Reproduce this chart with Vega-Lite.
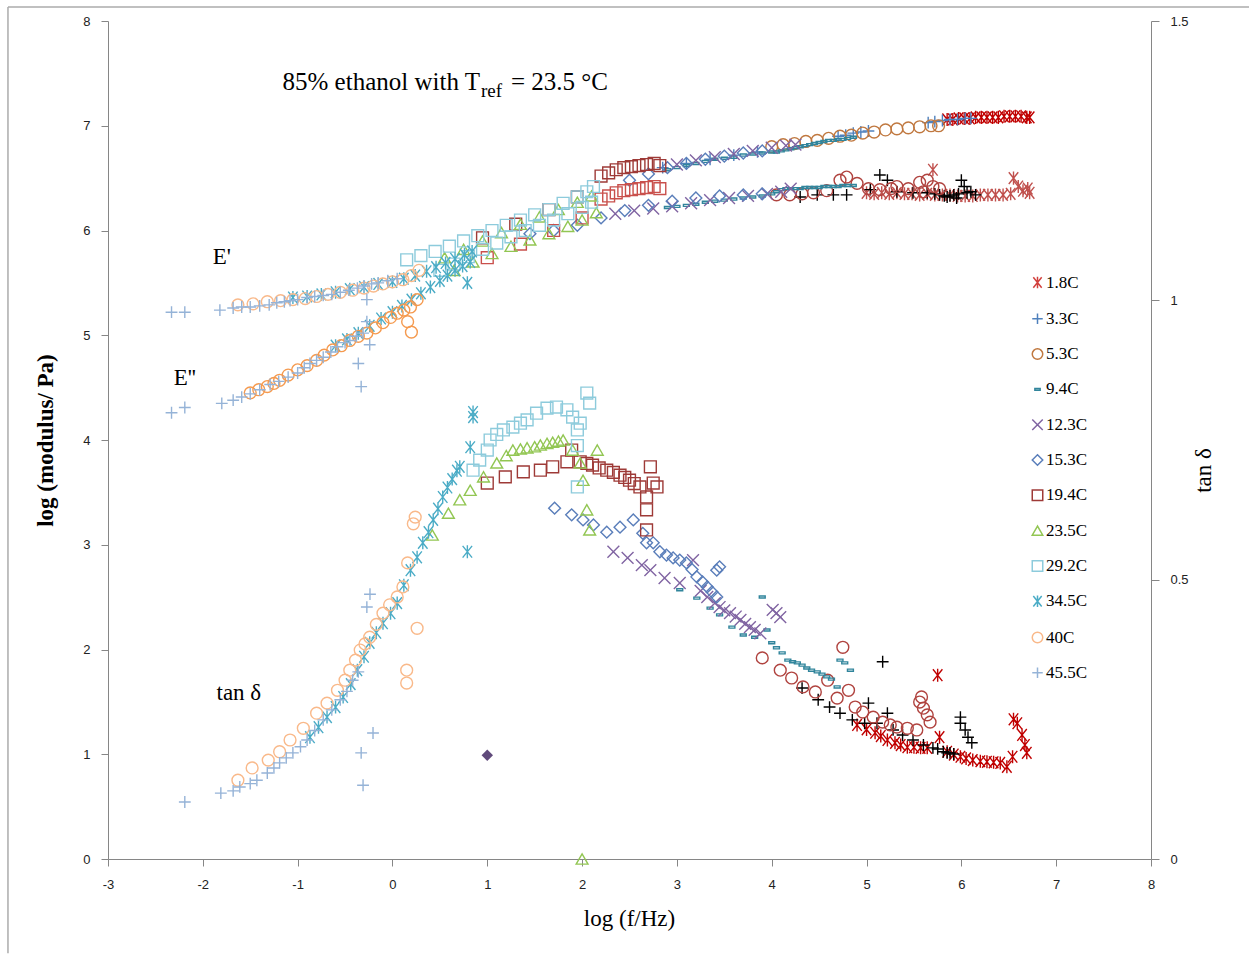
{
"$schema":"https://vega.github.io/schema/vega-lite/v6.json",
"width":1043,"height":838,
"autosize":{"type":"none"},
"padding":{"left":108,"top":21,"right":98,"bottom":97},
"background":"white",
"config":{
 "view":{"stroke":null},
 "axis":{"grid":false,"labelFlush":false,"domainColor":"#868686","tickColor":"#868686","domainWidth":1,"tickWidth":1,"tickSize":7,"labelFont":"Liberation Sans","labelFontSize":13,"labelColor":"#222222","labelPadding":12,"titleFont":"Liberation Serif","titleFontSize":23,"titleColor":"#000000","titleFontWeight":"normal"}
},
"datasets":{
 "frame":[{"x":-4.055,"x2":-4.055,"y":8.134,"y2":-0.9},{"x":-4.055,"x2":9.05,"y":8.134,"y2":8.134}],
 "modulus":[
  {"series":"1.8C top","x":5.85,"y":7.06},{"series":"1.8C top","x":5.91,"y":7.06},{"series":"1.8C top","x":5.97,"y":7.07},{"series":"1.8C top","x":6.03,"y":7.07},{"series":"1.8C top","x":6.09,"y":7.07},{"series":"1.8C top","x":6.15,"y":7.08},{"series":"1.8C top","x":6.21,"y":7.08},{"series":"1.8C top","x":6.27,"y":7.08},{"series":"1.8C top","x":6.33,"y":7.08},{"series":"1.8C top","x":6.39,"y":7.08},{"series":"1.8C top","x":6.45,"y":7.09},{"series":"1.8C top","x":6.51,"y":7.09},{"series":"1.8C top","x":6.57,"y":7.09},{"series":"1.8C top","x":6.63,"y":7.09},{"series":"1.8C top","x":6.69,"y":7.08},{"series":"1.8C top","x":6.72,"y":7.08},
  {"series":"1.8C mid","x":5.0,"y":6.36},{"series":"1.8C mid","x":5.08,"y":6.35},{"series":"1.8C mid","x":5.16,"y":6.36},{"series":"1.8C mid","x":5.24,"y":6.35},{"series":"1.8C mid","x":5.32,"y":6.36},{"series":"1.8C mid","x":5.4,"y":6.35},{"series":"1.8C mid","x":5.48,"y":6.35},{"series":"1.8C mid","x":5.56,"y":6.34},{"series":"1.8C mid","x":5.64,"y":6.35},{"series":"1.8C mid","x":5.7,"y":6.58},{"series":"1.8C mid","x":5.72,"y":6.34},{"series":"1.8C mid","x":5.8,"y":6.34},{"series":"1.8C mid","x":5.88,"y":6.34},{"series":"1.8C mid","x":5.96,"y":6.33},{"series":"1.8C mid","x":6.04,"y":6.33},{"series":"1.8C mid","x":6.12,"y":6.33},{"series":"1.8C mid","x":6.2,"y":6.34},{"series":"1.8C mid","x":6.28,"y":6.34},{"series":"1.8C mid","x":6.36,"y":6.34},{"series":"1.8C mid","x":6.44,"y":6.34},{"series":"1.8C mid","x":6.52,"y":6.35},{"series":"1.8C mid","x":6.55,"y":6.5},{"series":"1.8C mid","x":6.6,"y":6.42},{"series":"1.8C mid","x":6.65,"y":6.38},{"series":"1.8C mid","x":6.7,"y":6.4},{"series":"1.8C mid","x":6.72,"y":6.36},
  {"series":"3.3C","x":2.85,"y":6.6},{"series":"3.3C","x":3.1,"y":6.64},{"series":"3.3C","x":3.35,"y":6.68},{"series":"3.3C","x":3.6,"y":6.72},{"series":"3.3C","x":3.85,"y":6.75},{"series":"3.3C","x":4.7,"y":6.9},{"series":"3.3C","x":4.78,"y":6.91},{"series":"3.3C","x":4.86,"y":6.93},{"series":"3.3C","x":4.94,"y":6.94},{"series":"3.3C","x":5.02,"y":6.95},{"series":"3.3C","x":5.65,"y":7.03},{"series":"3.3C","x":5.72,"y":7.04},{"series":"3.3C","x":5.8,"y":7.05},{"series":"3.3C","x":5.88,"y":7.06},{"series":"3.3C","x":5.96,"y":7.06},{"series":"3.3C","x":6.04,"y":7.07},{"series":"3.3C","x":6.1,"y":7.07},
  {"series":"3.3C black","x":4.3,"y":6.32},{"series":"3.3C black","x":4.48,"y":6.34},{"series":"3.3C black","x":4.65,"y":6.34},{"series":"3.3C black","x":4.79,"y":6.34},{"series":"3.3C black","x":5.04,"y":6.39},{"series":"3.3C black","x":5.14,"y":6.53},{"series":"3.3C black","x":5.22,"y":6.48},{"series":"3.3C black","x":5.32,"y":6.37},{"series":"3.3C black","x":5.49,"y":6.36},{"series":"3.3C black","x":5.64,"y":6.36},{"series":"3.3C black","x":5.72,"y":6.35},{"series":"3.3C black","x":5.77,"y":6.34},{"series":"3.3C black","x":5.82,"y":6.33},{"series":"3.3C black","x":5.85,"y":6.32},{"series":"3.3C black","x":5.88,"y":6.33},{"series":"3.3C black","x":5.92,"y":6.34},{"series":"3.3C black","x":5.95,"y":6.31},{"series":"3.3C black","x":5.97,"y":6.35},{"series":"3.3C black","x":6.0,"y":6.48},{"series":"3.3C black","x":6.03,"y":6.42},{"series":"3.3C black","x":6.06,"y":6.36},{"series":"3.3C black","x":6.1,"y":6.37},{"series":"3.3C black","x":6.15,"y":6.34},
  {"series":"5.3C","x":4.0,"y":6.8},{"series":"5.3C","x":4.12,"y":6.82},{"series":"5.3C","x":4.24,"y":6.83},{"series":"5.3C","x":4.36,"y":6.85},{"series":"5.3C","x":4.48,"y":6.86},{"series":"5.3C","x":4.6,"y":6.88},{"series":"5.3C","x":4.72,"y":6.9},{"series":"5.3C","x":4.84,"y":6.91},{"series":"5.3C","x":4.96,"y":6.93},{"series":"5.3C","x":5.08,"y":6.94},{"series":"5.3C","x":5.2,"y":6.96},{"series":"5.3C","x":5.32,"y":6.97},{"series":"5.3C","x":5.44,"y":6.98},{"series":"5.3C","x":5.56,"y":6.99},{"series":"5.3C","x":5.68,"y":7.0},{"series":"5.3C","x":5.76,"y":7.0},
  {"series":"5.3C red","x":4.05,"y":6.34},{"series":"5.3C red","x":4.19,"y":6.34},{"series":"5.3C red","x":4.32,"y":6.35},{"series":"5.3C red","x":4.44,"y":6.36},{"series":"5.3C red","x":4.58,"y":6.38},{"series":"5.3C red","x":4.72,"y":6.48},{"series":"5.3C red","x":4.79,"y":6.51},{"series":"5.3C red","x":4.9,"y":6.45},{"series":"5.3C red","x":5.02,"y":6.4},{"series":"5.3C red","x":5.14,"y":6.39},{"series":"5.3C red","x":5.26,"y":6.4},{"series":"5.3C red","x":5.32,"y":6.42},{"series":"5.3C red","x":5.44,"y":6.4},{"series":"5.3C red","x":5.56,"y":6.46},{"series":"5.3C red","x":5.6,"y":6.37},{"series":"5.3C red","x":5.64,"y":6.48},{"series":"5.3C red","x":5.7,"y":6.42},{"series":"5.3C red","x":5.77,"y":6.4},
  {"series":"9.4C","x":2.9,"y":6.58},{"series":"9.4C","x":3.0,"y":6.6},{"series":"9.4C","x":3.1,"y":6.62},{"series":"9.4C","x":3.2,"y":6.64},{"series":"9.4C","x":3.3,"y":6.66},{"series":"9.4C","x":3.4,"y":6.68},{"series":"9.4C","x":3.5,"y":6.69},{"series":"9.4C","x":3.6,"y":6.7},{"series":"9.4C","x":3.7,"y":6.72},{"series":"9.4C","x":3.8,"y":6.73},{"series":"9.4C","x":3.9,"y":6.74},{"series":"9.4C","x":4.0,"y":6.75},{"series":"9.4C","x":4.05,"y":6.75},{"series":"9.4C","x":4.1,"y":6.76},{"series":"9.4C","x":4.15,"y":6.77},{"series":"9.4C","x":4.2,"y":6.78},{"series":"9.4C","x":4.25,"y":6.79},{"series":"9.4C","x":4.3,"y":6.8},{"series":"9.4C","x":4.35,"y":6.81},{"series":"9.4C","x":4.4,"y":6.82},{"series":"9.4C","x":4.45,"y":6.83},{"series":"9.4C","x":4.5,"y":6.84},{"series":"9.4C","x":4.55,"y":6.85},{"series":"9.4C","x":4.6,"y":6.86},{"series":"9.4C","x":4.65,"y":6.86},{"series":"9.4C","x":4.7,"y":6.87},{"series":"9.4C","x":4.75,"y":6.87},{"series":"9.4C","x":4.8,"y":6.88},{"series":"9.4C","x":4.86,"y":6.89},
  {"series":"9.4C","x":2.9,"y":6.22},{"series":"9.4C","x":3.0,"y":6.23},{"series":"9.4C","x":3.1,"y":6.24},{"series":"9.4C","x":3.2,"y":6.25},{"series":"9.4C","x":3.3,"y":6.27},{"series":"9.4C","x":3.4,"y":6.28},{"series":"9.4C","x":3.5,"y":6.29},{"series":"9.4C","x":3.6,"y":6.3},{"series":"9.4C","x":3.7,"y":6.31},{"series":"9.4C","x":3.8,"y":6.32},{"series":"9.4C","x":3.9,"y":6.33},{"series":"9.4C","x":4.0,"y":6.35},{"series":"9.4C","x":4.05,"y":6.37},{"series":"9.4C","x":4.1,"y":6.39},{"series":"9.4C","x":4.15,"y":6.4},{"series":"9.4C","x":4.2,"y":6.4},{"series":"9.4C","x":4.25,"y":6.4},{"series":"9.4C","x":4.3,"y":6.4},{"series":"9.4C","x":4.35,"y":6.41},{"series":"9.4C","x":4.4,"y":6.41},{"series":"9.4C","x":4.45,"y":6.41},{"series":"9.4C","x":4.5,"y":6.41},{"series":"9.4C","x":4.55,"y":6.42},{"series":"9.4C","x":4.6,"y":6.42},{"series":"9.4C","x":4.65,"y":6.42},{"series":"9.4C","x":4.7,"y":6.42},{"series":"9.4C","x":4.75,"y":6.43},{"series":"9.4C","x":4.8,"y":6.43},{"series":"9.4C","x":4.86,"y":6.43},
  {"series":"12.3C","x":3.0,"y":6.63},{"series":"12.3C","x":3.2,"y":6.67},{"series":"12.3C","x":3.4,"y":6.7},{"series":"12.3C","x":3.6,"y":6.73},{"series":"12.3C","x":3.8,"y":6.76},{"series":"12.3C","x":4.0,"y":6.79},{"series":"12.3C","x":4.15,"y":6.81},{"series":"12.3C","x":4.25,"y":6.82},
  {"series":"12.3C","x":2.35,"y":6.16},{"series":"12.3C","x":2.55,"y":6.19},{"series":"12.3C","x":2.75,"y":6.21},{"series":"12.3C","x":2.95,"y":6.23},{"series":"12.3C","x":3.15,"y":6.26},{"series":"12.3C","x":3.35,"y":6.29},{"series":"12.3C","x":3.55,"y":6.31},{"series":"12.3C","x":3.75,"y":6.33},{"series":"12.3C","x":3.95,"y":6.35},{"series":"12.3C","x":4.1,"y":6.37},{"series":"12.3C","x":4.2,"y":6.4},
  {"series":"15.3C","x":2.5,"y":6.48},{"series":"15.3C","x":2.7,"y":6.54},{"series":"15.3C","x":2.9,"y":6.6},{"series":"15.3C","x":3.1,"y":6.64},{"series":"15.3C","x":3.3,"y":6.68},{"series":"15.3C","x":3.5,"y":6.71},{"series":"15.3C","x":3.7,"y":6.74},{"series":"15.3C","x":3.9,"y":6.76},
  {"series":"15.3C","x":1.45,"y":5.97},{"series":"15.3C","x":1.7,"y":6.0},{"series":"15.3C","x":1.95,"y":6.05},{"series":"15.3C","x":2.2,"y":6.12},{"series":"15.3C","x":2.45,"y":6.19},{"series":"15.3C","x":2.7,"y":6.24},{"series":"15.3C","x":2.95,"y":6.28},{"series":"15.3C","x":3.2,"y":6.31},{"series":"15.3C","x":3.45,"y":6.33},{"series":"15.3C","x":3.7,"y":6.34},{"series":"15.3C","x":3.9,"y":6.35},
  {"series":"19.4C","x":0.95,"y":5.93},{"series":"19.4C","x":1.3,"y":6.06},{"series":"19.4C","x":1.65,"y":6.2},{"series":"19.4C","x":1.95,"y":6.32},{"series":"19.4C","x":2.2,"y":6.52},{"series":"19.4C","x":2.28,"y":6.55},{"series":"19.4C","x":2.36,"y":6.58},{"series":"19.4C","x":2.44,"y":6.6},{"series":"19.4C","x":2.52,"y":6.61},{"series":"19.4C","x":2.6,"y":6.62},{"series":"19.4C","x":2.68,"y":6.63},{"series":"19.4C","x":2.76,"y":6.64},{"series":"19.4C","x":2.82,"y":6.62},
  {"series":"19.4C light","x":1.0,"y":5.74},{"series":"19.4C light","x":1.35,"y":5.87},{"series":"19.4C light","x":1.7,"y":6.0},{"series":"19.4C light","x":2.0,"y":6.12},{"series":"19.4C light","x":2.2,"y":6.3},{"series":"19.4C light","x":2.28,"y":6.33},{"series":"19.4C light","x":2.36,"y":6.36},{"series":"19.4C light","x":2.44,"y":6.38},{"series":"19.4C light","x":2.52,"y":6.39},{"series":"19.4C light","x":2.6,"y":6.4},{"series":"19.4C light","x":2.68,"y":6.41},{"series":"19.4C light","x":2.76,"y":6.42},{"series":"19.4C light","x":2.82,"y":6.4},
  {"series":"23.5C","x":0.55,"y":5.74},{"series":"23.5C","x":0.75,"y":5.82},{"series":"23.5C","x":0.95,"y":5.9},{"series":"23.5C","x":1.15,"y":5.98},{"series":"23.5C","x":1.35,"y":6.06},{"series":"23.5C","x":1.55,"y":6.13},{"series":"23.5C","x":1.75,"y":6.2},{"series":"23.5C","x":1.95,"y":6.27},{"series":"23.5C","x":2.1,"y":6.33},
  {"series":"23.5C","x":0.65,"y":5.62},{"series":"23.5C","x":0.85,"y":5.7},{"series":"23.5C","x":1.05,"y":5.78},{"series":"23.5C","x":1.25,"y":5.85},{"series":"23.5C","x":1.45,"y":5.91},{"series":"23.5C","x":1.65,"y":5.97},{"series":"23.5C","x":1.85,"y":6.04},{"series":"23.5C","x":2.0,"y":6.1},{"series":"23.5C","x":2.15,"y":6.17},
  {"series":"29.2C","x":0.15,"y":5.72},{"series":"29.2C","x":0.3,"y":5.76},{"series":"29.2C","x":0.45,"y":5.8},{"series":"29.2C","x":0.6,"y":5.85},{"series":"29.2C","x":0.75,"y":5.9},{"series":"29.2C","x":0.9,"y":5.95},{"series":"29.2C","x":1.05,"y":6.0},{"series":"29.2C","x":1.2,"y":6.05},{"series":"29.2C","x":1.35,"y":6.1},{"series":"29.2C","x":1.5,"y":6.15},{"series":"29.2C","x":1.65,"y":6.2},{"series":"29.2C","x":1.8,"y":6.26},{"series":"29.2C","x":1.95,"y":6.32},{"series":"29.2C","x":2.05,"y":6.37},{"series":"29.2C","x":2.12,"y":6.42},
  {"series":"29.2C","x":0.5,"y":5.62},{"series":"29.2C","x":0.65,"y":5.68},{"series":"29.2C","x":0.8,"y":5.75},{"series":"29.2C","x":0.95,"y":5.82},{"series":"29.2C","x":1.1,"y":5.88},{"series":"29.2C","x":1.25,"y":5.94},{"series":"29.2C","x":1.4,"y":6.0},{"series":"29.2C","x":1.55,"y":6.05},{"series":"29.2C","x":1.7,"y":6.1},{"series":"29.2C","x":1.85,"y":6.16},{"series":"29.2C","x":2.0,"y":6.22},{"series":"29.2C","x":2.1,"y":6.27},
  {"series":"34.5C","x":-1.05,"y":5.36},{"series":"34.5C","x":-0.9,"y":5.37},{"series":"34.5C","x":-0.75,"y":5.39},{"series":"34.5C","x":-0.6,"y":5.41},{"series":"34.5C","x":-0.45,"y":5.44},{"series":"34.5C","x":-0.3,"y":5.46},{"series":"34.5C","x":-0.15,"y":5.49},{"series":"34.5C","x":0.0,"y":5.51},{"series":"34.5C","x":0.12,"y":5.54},{"series":"34.5C","x":0.24,"y":5.57},{"series":"34.5C","x":0.36,"y":5.61},{"series":"34.5C","x":0.46,"y":5.65},{"series":"34.5C","x":0.56,"y":5.69},{"series":"34.5C","x":0.66,"y":5.73},{"series":"34.5C","x":0.76,"y":5.77},{"series":"34.5C","x":0.84,"y":5.8},
  {"series":"34.5C","x":-0.6,"y":4.9},{"series":"34.5C","x":-0.48,"y":4.96},{"series":"34.5C","x":-0.36,"y":5.02},{"series":"34.5C","x":-0.24,"y":5.09},{"series":"34.5C","x":-0.12,"y":5.16},{"series":"34.5C","x":0.0,"y":5.22},{"series":"34.5C","x":0.1,"y":5.28},{"series":"34.5C","x":0.2,"y":5.34},{"series":"34.5C","x":0.3,"y":5.4},{"series":"34.5C","x":0.4,"y":5.46},{"series":"34.5C","x":0.5,"y":5.52},{"series":"34.5C","x":0.58,"y":5.57},{"series":"34.5C","x":0.66,"y":5.62},{"series":"34.5C","x":0.74,"y":5.66},{"series":"34.5C","x":0.82,"y":5.7},{"series":"34.5C","x":0.79,"y":5.5},
  {"series":"40C","x":-1.63,"y":5.29},{"series":"40C","x":-1.47,"y":5.3},{"series":"40C","x":-1.32,"y":5.32},{"series":"40C","x":-1.18,"y":5.33},{"series":"40C","x":-1.05,"y":5.34},{"series":"40C","x":-0.92,"y":5.35},{"series":"40C","x":-0.8,"y":5.37},{"series":"40C","x":-0.68,"y":5.39},{"series":"40C","x":-0.55,"y":5.41},{"series":"40C","x":-0.42,"y":5.43},{"series":"40C","x":-0.3,"y":5.45},{"series":"40C","x":-0.2,"y":5.47},{"series":"40C","x":-0.1,"y":5.49},{"series":"40C","x":0.0,"y":5.51},{"series":"40C","x":0.11,"y":5.53},{"series":"40C","x":0.2,"y":5.57},{"series":"40C","x":0.28,"y":5.62},
  {"series":"40C deep","x":-1.5,"y":4.45},{"series":"40C deep","x":-1.41,"y":4.48},{"series":"40C deep","x":-1.32,"y":4.51},{"series":"40C deep","x":-1.25,"y":4.54},{"series":"40C deep","x":-1.19,"y":4.57},{"series":"40C deep","x":-1.1,"y":4.62},{"series":"40C deep","x":-1.0,"y":4.67},{"series":"40C deep","x":-0.9,"y":4.71},{"series":"40C deep","x":-0.8,"y":4.76},{"series":"40C deep","x":-0.72,"y":4.81},{"series":"40C deep","x":-0.63,"y":4.86},{"series":"40C deep","x":-0.54,"y":4.9},{"series":"40C deep","x":-0.45,"y":4.95},{"series":"40C deep","x":-0.36,"y":4.99},{"series":"40C deep","x":-0.27,"y":5.02},{"series":"40C deep","x":-0.18,"y":5.07},{"series":"40C deep","x":-0.1,"y":5.12},{"series":"40C deep","x":-0.02,"y":5.17},{"series":"40C deep","x":0.05,"y":5.21},{"series":"40C deep","x":0.12,"y":5.24},{"series":"40C deep","x":0.19,"y":5.27},{"series":"40C deep","x":0.26,"y":5.34},{"series":"40C deep","x":0.16,"y":5.13},{"series":"40C deep","x":0.2,"y":5.03},
  {"series":"45.5C","x":-2.33,"y":5.22},{"series":"45.5C","x":-2.19,"y":5.22},{"series":"45.5C","x":-1.82,"y":5.24},{"series":"45.5C","x":-1.68,"y":5.26},{"series":"45.5C","x":-1.59,"y":5.27},{"series":"45.5C","x":-1.5,"y":5.27},{"series":"45.5C","x":-1.4,"y":5.28},{"series":"45.5C","x":-1.3,"y":5.29},{"series":"45.5C","x":-1.22,"y":5.31},{"series":"45.5C","x":-1.14,"y":5.32},{"series":"45.5C","x":-1.08,"y":5.33},{"series":"45.5C","x":-1.0,"y":5.34},{"series":"45.5C","x":-0.9,"y":5.36},{"series":"45.5C","x":-0.82,"y":5.37},{"series":"45.5C","x":-0.73,"y":5.38},{"series":"45.5C","x":-0.64,"y":5.39},{"series":"45.5C","x":-0.55,"y":5.41},{"series":"45.5C","x":-0.46,"y":5.43},{"series":"45.5C","x":-0.37,"y":5.45},{"series":"45.5C","x":-0.3,"y":5.47},{"series":"45.5C","x":-0.27,"y":5.34},{"series":"45.5C","x":-0.22,"y":5.49},{"series":"45.5C","x":-0.15,"y":5.5},{"series":"45.5C","x":-0.05,"y":5.52},{"series":"45.5C","x":0.05,"y":5.54},
  {"series":"45.5C","x":-2.33,"y":4.26},{"series":"45.5C","x":-2.19,"y":4.31},{"series":"45.5C","x":-1.8,"y":4.35},{"series":"45.5C","x":-1.68,"y":4.38},{"series":"45.5C","x":-1.59,"y":4.41},{"series":"45.5C","x":-1.5,"y":4.44},{"series":"45.5C","x":-1.4,"y":4.48},{"series":"45.5C","x":-1.29,"y":4.53},{"series":"45.5C","x":-1.2,"y":4.56},{"series":"45.5C","x":-1.1,"y":4.6},{"series":"45.5C","x":-1.0,"y":4.64},{"series":"45.5C","x":-0.93,"y":4.69},{"series":"45.5C","x":-0.87,"y":4.73},{"series":"45.5C","x":-0.8,"y":4.76},{"series":"45.5C","x":-0.73,"y":4.79},{"series":"45.5C","x":-0.65,"y":4.84},{"series":"45.5C","x":-0.58,"y":4.89},{"series":"45.5C","x":-0.5,"y":4.93},{"series":"45.5C","x":-0.45,"y":4.95},{"series":"45.5C","x":-0.38,"y":4.99},{"series":"45.5C","x":-0.31,"y":5.02},{"series":"45.5C","x":-0.27,"y":5.13},{"series":"45.5C","x":-0.24,"y":4.91},{"series":"45.5C","x":-0.36,"y":4.73},{"series":"45.5C","x":-0.33,"y":4.51}
 ],
 "tand":[
  {"series":"1.8C top","x":4.9,"y":0.24},{"series":"1.8C top","x":5.0,"y":0.232},{"series":"1.8C top","x":5.09,"y":0.226},{"series":"1.8C top","x":5.15,"y":0.22},{"series":"1.8C top","x":5.22,"y":0.213},{"series":"1.8C top","x":5.3,"y":0.208},{"series":"1.8C top","x":5.36,"y":0.204},{"series":"1.8C top","x":5.43,"y":0.2},{"series":"1.8C top","x":5.5,"y":0.2},{"series":"1.8C top","x":5.57,"y":0.199},{"series":"1.8C top","x":5.64,"y":0.199},{"series":"1.8C top","x":5.77,"y":0.218},{"series":"1.8C top","x":5.85,"y":0.192},{"series":"1.8C top","x":5.92,"y":0.187},{"series":"1.8C top","x":5.99,"y":0.183},{"series":"1.8C top","x":6.05,"y":0.18},{"series":"1.8C top","x":6.12,"y":0.177},{"series":"1.8C top","x":6.2,"y":0.175},{"series":"1.8C top","x":6.27,"y":0.174},{"series":"1.8C top","x":6.34,"y":0.173},{"series":"1.8C top","x":6.41,"y":0.172},{"series":"1.8C top","x":6.48,"y":0.165},{"series":"1.8C top","x":6.54,"y":0.183},{"series":"1.8C top","x":6.59,"y":0.243},{"series":"1.8C top","x":6.64,"y":0.222},{"series":"1.8C top","x":6.67,"y":0.204},{"series":"1.8C top","x":6.69,"y":0.19},{"series":"1.8C top","x":5.75,"y":0.329},{"series":"1.8C top","x":6.55,"y":0.25},
  {"series":"3.3C black","x":4.32,"y":0.306},{"series":"3.3C black","x":4.49,"y":0.285},{"series":"3.3C black","x":4.61,"y":0.272},{"series":"3.3C black","x":4.72,"y":0.261},{"series":"3.3C black","x":4.85,"y":0.249},{"series":"3.3C black","x":4.98,"y":0.243},{"series":"3.3C black","x":5.02,"y":0.279},{"series":"3.3C black","x":5.11,"y":0.243},{"series":"3.3C black","x":5.22,"y":0.261},{"series":"3.3C black","x":5.17,"y":0.353},{"series":"3.3C black","x":5.28,"y":0.231},{"series":"3.3C black","x":5.38,"y":0.222},{"series":"3.3C black","x":5.49,"y":0.213},{"series":"3.3C black","x":5.6,"y":0.204},{"series":"3.3C black","x":5.7,"y":0.199},{"series":"3.3C black","x":5.75,"y":0.197},{"series":"3.3C black","x":5.81,"y":0.192},{"series":"3.3C black","x":5.85,"y":0.19},{"series":"3.3C black","x":5.88,"y":0.19},{"series":"3.3C black","x":5.92,"y":0.188},{"series":"3.3C black","x":5.99,"y":0.254},{"series":"3.3C black","x":5.99,"y":0.243},{"series":"3.3C black","x":6.04,"y":0.231},{"series":"3.3C black","x":6.07,"y":0.218},{"series":"3.3C black","x":6.11,"y":0.208},
  {"series":"5.3C red","x":3.9,"y":0.36},{"series":"5.3C red","x":4.09,"y":0.338},{"series":"5.3C red","x":4.21,"y":0.324},{"series":"5.3C red","x":4.33,"y":0.308},{"series":"5.3C red","x":4.46,"y":0.299},{"series":"5.3C red","x":4.59,"y":0.32},{"series":"5.3C red","x":4.69,"y":0.288},{"series":"5.3C red","x":4.75,"y":0.379},{"series":"5.3C red","x":4.81,"y":0.302},{"series":"5.3C red","x":4.88,"y":0.272},{"series":"5.3C red","x":4.96,"y":0.263},{"series":"5.3C red","x":5.07,"y":0.254},{"series":"5.3C red","x":5.17,"y":0.245},{"series":"5.3C red","x":5.25,"y":0.24},{"series":"5.3C red","x":5.32,"y":0.236},{"series":"5.3C red","x":5.43,"y":0.234},{"series":"5.3C red","x":5.53,"y":0.231},{"series":"5.3C red","x":5.56,"y":0.281},{"series":"5.3C red","x":5.6,"y":0.27},{"series":"5.3C red","x":5.64,"y":0.258},{"series":"5.3C red","x":5.67,"y":0.245},{"series":"5.3C red","x":5.58,"y":0.29},
  {"series":"9.4C","x":3.03,"y":0.482},{"series":"9.4C","x":3.21,"y":0.467},{"series":"9.4C","x":3.35,"y":0.449},{"series":"9.4C","x":3.45,"y":0.437},{"series":"9.4C","x":3.58,"y":0.415},{"series":"9.4C","x":3.7,"y":0.401},{"series":"9.4C","x":3.82,"y":0.397},{"series":"9.4C","x":3.9,"y":0.469},{"series":"9.4C","x":3.95,"y":0.41},{"series":"9.4C","x":4.0,"y":0.387},{"series":"9.4C","x":4.05,"y":0.378},{"series":"9.4C","x":4.11,"y":0.369},{"series":"9.4C","x":4.17,"y":0.356},{"series":"9.4C","x":4.22,"y":0.353},{"series":"9.4C","x":4.27,"y":0.351},{"series":"9.4C","x":4.32,"y":0.347},{"series":"9.4C","x":4.37,"y":0.342},{"series":"9.4C","x":4.42,"y":0.338},{"series":"9.4C","x":4.48,"y":0.335},{"series":"9.4C","x":4.53,"y":0.331},{"series":"9.4C","x":4.58,"y":0.326},{"series":"9.4C","x":4.63,"y":0.322},{"series":"9.4C","x":4.72,"y":0.356},{"series":"9.4C","x":4.77,"y":0.351},{"series":"9.4C","x":4.83,"y":0.338},{"series":"9.4C","x":4.69,"y":0.308},
  {"series":"12.3C","x":2.33,"y":0.55},{"series":"12.3C","x":2.48,"y":0.539},{"series":"12.3C","x":2.63,"y":0.526},{"series":"12.3C","x":2.72,"y":0.517},{"series":"12.3C","x":2.87,"y":0.503},{"series":"12.3C","x":3.03,"y":0.494},{"series":"12.3C","x":3.17,"y":0.535},{"series":"12.3C","x":3.25,"y":0.48},{"series":"12.3C","x":3.32,"y":0.469},{"series":"12.3C","x":3.4,"y":0.458},{"series":"12.3C","x":3.45,"y":0.451},{"series":"12.3C","x":3.5,"y":0.445},{"series":"12.3C","x":3.56,"y":0.44},{"series":"12.3C","x":3.62,"y":0.434},{"series":"12.3C","x":3.67,"y":0.428},{"series":"12.3C","x":3.72,"y":0.421},{"series":"12.3C","x":3.77,"y":0.415},{"series":"12.3C","x":3.82,"y":0.41},{"series":"12.3C","x":3.88,"y":0.404},{"series":"12.3C","x":4.01,"y":0.446},{"series":"12.3C","x":4.05,"y":0.44},{"series":"12.3C","x":4.09,"y":0.433},
  {"series":"15.3C","x":1.71,"y":0.628},{"series":"15.3C","x":1.89,"y":0.616},{"series":"15.3C","x":2.01,"y":0.607},{"series":"15.3C","x":2.12,"y":0.598},{"series":"15.3C","x":2.26,"y":0.585},{"series":"15.3C","x":2.4,"y":0.594},{"series":"15.3C","x":2.54,"y":0.607},{"series":"15.3C","x":2.64,"y":0.583},{"series":"15.3C","x":2.68,"y":0.566},{"series":"15.3C","x":2.75,"y":0.566},{"series":"15.3C","x":2.82,"y":0.55},{"series":"15.3C","x":2.89,"y":0.544},{"series":"15.3C","x":2.96,"y":0.539},{"series":"15.3C","x":3.03,"y":0.535},{"series":"15.3C","x":3.1,"y":0.53},{"series":"15.3C","x":3.16,"y":0.518},{"series":"15.3C","x":3.21,"y":0.505},{"series":"15.3C","x":3.27,"y":0.496},{"series":"15.3C","x":3.32,"y":0.487},{"series":"15.3C","x":3.37,"y":0.478},{"series":"15.3C","x":3.42,"y":0.469},{"series":"15.3C","x":3.45,"y":0.523},{"series":"15.3C","x":3.42,"y":0.517},
  {"series":"19.4C","x":1.0,"y":0.673},{"series":"19.4C","x":1.19,"y":0.684},{"series":"19.4C","x":1.38,"y":0.693},{"series":"19.4C","x":1.56,"y":0.696},{"series":"19.4C","x":1.69,"y":0.702},{"series":"19.4C","x":1.84,"y":0.711},{"series":"19.4C","x":1.89,"y":0.732},{"series":"19.4C","x":1.98,"y":0.711},{"series":"19.4C","x":2.05,"y":0.708},{"series":"19.4C","x":2.11,"y":0.705},{"series":"19.4C","x":2.18,"y":0.7},{"series":"19.4C","x":2.26,"y":0.696},{"series":"19.4C","x":2.33,"y":0.692},{"series":"19.4C","x":2.4,"y":0.687},{"series":"19.4C","x":2.45,"y":0.683},{"series":"19.4C","x":2.5,"y":0.678},{"series":"19.4C","x":2.55,"y":0.672},{"series":"19.4C","x":2.61,"y":0.666},{"series":"19.4C","x":2.68,"y":0.648},{"series":"19.4C","x":2.72,"y":0.702},{"series":"19.4C","x":2.75,"y":0.673},{"series":"19.4C","x":2.79,"y":0.666},{"series":"19.4C","x":2.68,"y":0.625},{"series":"19.4C","x":2.68,"y":0.589},
  {"series":"23.5C","x":0.42,"y":0.58},{"series":"23.5C","x":0.59,"y":0.619},{"series":"23.5C","x":0.71,"y":0.643},{"series":"23.5C","x":0.82,"y":0.66},{"series":"23.5C","x":0.96,"y":0.684},{"series":"23.5C","x":1.1,"y":0.709},{"series":"23.5C","x":1.2,"y":0.722},{"series":"23.5C","x":1.27,"y":0.732},{"series":"23.5C","x":1.35,"y":0.734},{"series":"23.5C","x":1.42,"y":0.736},{"series":"23.5C","x":1.5,"y":0.738},{"series":"23.5C","x":1.56,"y":0.741},{"series":"23.5C","x":1.63,"y":0.744},{"series":"23.5C","x":1.69,"y":0.746},{"series":"23.5C","x":1.75,"y":0.748},{"series":"23.5C","x":1.8,"y":0.75},{"series":"23.5C","x":1.9,"y":0.732},{"series":"23.5C","x":1.98,"y":0.709},{"series":"23.5C","x":2.01,"y":0.678},{"series":"23.5C","x":2.05,"y":0.625},{"series":"23.5C","x":2.08,"y":0.589},{"series":"23.5C","x":2.16,"y":0.732},{"series":"23.5C","x":2.0,"y":0.0},
  {"series":"29.2C","x":0.85,"y":0.696},{"series":"29.2C","x":0.92,"y":0.714},{"series":"29.2C","x":1.0,"y":0.732},{"series":"29.2C","x":1.03,"y":0.75},{"series":"29.2C","x":1.1,"y":0.76},{"series":"29.2C","x":1.17,"y":0.768},{"series":"29.2C","x":1.27,"y":0.773},{"series":"29.2C","x":1.35,"y":0.78},{"series":"29.2C","x":1.42,"y":0.786},{"series":"29.2C","x":1.52,"y":0.798},{"series":"29.2C","x":1.63,"y":0.807},{"series":"29.2C","x":1.73,"y":0.809},{"series":"29.2C","x":1.84,"y":0.804},{"series":"29.2C","x":1.9,"y":0.791},{"series":"29.2C","x":1.98,"y":0.78},{"series":"29.2C","x":2.05,"y":0.834},{"series":"29.2C","x":2.08,"y":0.816},{"series":"29.2C","x":1.95,"y":0.768},{"series":"29.2C","x":1.95,"y":0.74},{"series":"29.2C","x":1.95,"y":0.666},
  {"series":"34.5C","x":-0.87,"y":0.218},{"series":"34.5C","x":-0.78,"y":0.236},{"series":"34.5C","x":-0.69,"y":0.254},{"series":"34.5C","x":-0.6,"y":0.272},{"series":"34.5C","x":-0.52,"y":0.29},{"series":"34.5C","x":-0.44,"y":0.313},{"series":"34.5C","x":-0.37,"y":0.338},{"series":"34.5C","x":-0.3,"y":0.362},{"series":"34.5C","x":-0.24,"y":0.387},{"series":"34.5C","x":-0.17,"y":0.405},{"series":"34.5C","x":-0.1,"y":0.422},{"series":"34.5C","x":-0.02,"y":0.44},{"series":"34.5C","x":0.05,"y":0.458},{"series":"34.5C","x":0.12,"y":0.49},{"series":"34.5C","x":0.19,"y":0.517},{"series":"34.5C","x":0.26,"y":0.54},{"series":"34.5C","x":0.32,"y":0.566},{"series":"34.5C","x":0.38,"y":0.585},{"series":"34.5C","x":0.43,"y":0.607},{"series":"34.5C","x":0.48,"y":0.627},{"series":"34.5C","x":0.53,"y":0.648},{"series":"34.5C","x":0.58,"y":0.665},{"series":"34.5C","x":0.63,"y":0.68},{"series":"34.5C","x":0.68,"y":0.695},{"series":"34.5C","x":0.71,"y":0.702},{"series":"34.5C","x":0.85,"y":0.791},{"series":"34.5C","x":0.85,"y":0.8},{"series":"34.5C","x":0.82,"y":0.737},{"series":"34.5C","x":0.79,"y":0.55},
  {"series":"40C","x":-1.63,"y":0.141},{"series":"40C","x":-1.48,"y":0.163},{"series":"40C","x":-1.31,"y":0.177},{"series":"40C","x":-1.19,"y":0.192},{"series":"40C","x":-1.08,"y":0.213},{"series":"40C","x":-0.94,"y":0.234},{"series":"40C","x":-0.8,"y":0.261},{"series":"40C","x":-0.69,"y":0.279},{"series":"40C","x":-0.58,"y":0.302},{"series":"40C","x":-0.5,"y":0.32},{"series":"40C","x":-0.45,"y":0.338},{"series":"40C","x":-0.39,"y":0.356},{"series":"40C","x":-0.34,"y":0.374},{"series":"40C","x":-0.29,"y":0.385},{"series":"40C","x":-0.24,"y":0.397},{"series":"40C","x":-0.17,"y":0.42},{"series":"40C","x":-0.1,"y":0.44},{"series":"40C","x":-0.03,"y":0.455},{"series":"40C","x":0.05,"y":0.469},{"series":"40C","x":0.11,"y":0.487},{"series":"40C","x":0.16,"y":0.53},{"series":"40C","x":0.22,"y":0.6},{"series":"40C","x":0.24,"y":0.612},{"series":"40C","x":0.26,"y":0.413},{"series":"40C","x":0.15,"y":0.338},{"series":"40C","x":0.15,"y":0.315},
  {"series":"45.5C","x":-2.19,"y":0.102},{"series":"45.5C","x":-1.81,"y":0.118},{"series":"45.5C","x":-1.68,"y":0.122},{"series":"45.5C","x":-1.61,"y":0.129},{"series":"45.5C","x":-1.5,"y":0.135},{"series":"45.5C","x":-1.43,"y":0.141},{"series":"45.5C","x":-1.32,"y":0.154},{"series":"45.5C","x":-1.25,"y":0.163},{"series":"45.5C","x":-1.19,"y":0.172},{"series":"45.5C","x":-1.12,"y":0.181},{"series":"45.5C","x":-1.05,"y":0.19},{"series":"45.5C","x":-0.97,"y":0.201},{"series":"45.5C","x":-0.9,"y":0.213},{"series":"45.5C","x":-0.82,"y":0.23},{"series":"45.5C","x":-0.73,"y":0.249},{"series":"45.5C","x":-0.64,"y":0.267},{"series":"45.5C","x":-0.55,"y":0.285},{"series":"45.5C","x":-0.48,"y":0.3},{"series":"45.5C","x":-0.42,"y":0.32},{"series":"45.5C","x":-0.36,"y":0.335},{"series":"45.5C","x":-0.237,"y":0.474},{"series":"45.5C","x":-0.27,"y":0.451},{"series":"45.5C","x":-0.205,"y":0.2255},{"series":"45.5C","x":-0.33,"y":0.19},{"series":"45.5C","x":-0.31,"y":0.132}
 ]
},
"encoding":{
 "x":{"field":"x","type":"quantitative","scale":{"domain":[-3,8],"nice":false,"zero":false},
  "axis":{"values":[-3,-2,-1,0,1,2,3,4,5,6,7,8],"labelExpr":"datum.value + ''","title":"log (f/Hz)","titleX":521,"titleY":59,"titleBaseline":"middle","titleAnchor":null}}
},
"layer":[
 {
  "encoding":{
   "y":{"field":"y","type":"quantitative","scale":{"domain":[0,8],"nice":false,"zero":false},
    "axis":{"orient":"left","values":[0,1,2,3,4,5,6,7,8],"title":"log (modulus/ Pa)","titleFontWeight":"bold","titleAngle":270,"titleX":-63,"titleY":419,"titleBaseline":"middle","titleAlign":"center","labelPadding":11}}
  },
  "layer":[
   {"data":{"name":"frame"},"mark":{"type":"rule","color":"#ABABAB","strokeWidth":1.5,"clip":false},"encoding":{"x2":{"field":"x2"},"y2":{"field":"y2"}}},
   {"data":{"name":"modulus"},"mark":{"type":"point","filled":false,"strokeWidth":1.4,"size":140,"opacity":1},
    "encoding":{
     "color":{"field":"series","type":"nominal",
      "scale":{"domain":["1.8C","3.3C","5.3C","9.4C","12.3C","15.3C","19.4C","23.5C","29.2C","34.5C","40C","45.5C","1.8C top","1.8C mid","3.3C black","5.3C red","19.4C light","40C deep"],
       "range":["#D2413E","#4F81BD","#C0783F","#31859C","#8064A2","#5A7EBA","#9E3A37","#92C653","#8DCBDC","#4BACC6","#F9B98A","#95B3D7","#C00000","#C0504D","#000000","#B0433F","#C9504C","#F59A4F"]},
      "legend":{"title":null,"orient":"none","direction":"vertical","legendX":921,"legendY":253,"padding":0,"values":["1.8C","3.3C","5.3C","9.4C","12.3C","15.3C","19.4C","23.5C","29.2C","34.5C","40C","45.5C"],"symbolSize":110,"symbolStrokeWidth":1.5,"labelFont":"Liberation Serif","labelFontSize":17,"labelColor":"#000000","rowPadding":17.3,"labelOffset":0}},
     "shape":{"field":"series","type":"nominal",
      "scale":{"domain":["1.8C","3.3C","5.3C","9.4C","12.3C","15.3C","19.4C","23.5C","29.2C","34.5C","40C","45.5C","1.8C top","1.8C mid","3.3C black","5.3C red","19.4C light","40C deep"],
       "range":["M-0.8,-1L0.8,1M-0.8,1L0.8,-1M0,-1.1L0,1.1","M-1,0L1,0M0,-1L0,1","circle","M-0.5,-0.17L0.5,-0.17L0.5,0.17L-0.5,0.17Z","M-1,-1L1,1M-1,1L1,-1","diamond","square","triangle-up","square","M-0.8,-1L0.8,1M-0.8,1L0.8,-1M0,-1.1L0,1.1","circle","M-1,0L1,0M0,-1L0,1","M-0.8,-1L0.8,1M-0.8,1L0.8,-1M0,-1.1L0,1.1","M-0.8,-1L0.8,1M-0.8,1L0.8,-1M0,-1.1L0,1.1","M-1,0L1,0M0,-1L0,1","circle","square","circle"]},
      "legend":{"title":null,"orient":"none","direction":"vertical","legendX":921,"legendY":253,"padding":0,"values":["1.8C","3.3C","5.3C","9.4C","12.3C","15.3C","19.4C","23.5C","29.2C","34.5C","40C","45.5C"],"symbolSize":110,"symbolStrokeWidth":1.5,"labelFont":"Liberation Serif","labelFontSize":17,"labelColor":"#000000","rowPadding":17.3,"labelOffset":0}}
    }},
   {"data":{"values":[{"x":1.0,"y":0.99}]},"mark":{"type":"point","shape":"diamond","filled":true,"color":"#604A7B","size":130,"opacity":1}},
   {"data":{"values":[{"x":-1.8,"y":5.75,"label":"E'"},{"x":-2.19,"y":4.59,"label":"E''"},{"x":-1.62,"y":1.585,"label":"tan δ"}]},
    "mark":{"type":"text","font":"Liberation Serif","fontSize":23,"color":"#000000","align":"center","baseline":"middle"},
    "encoding":{"text":{"field":"label"}}},
   {"data":{"values":[{"x":0.923,"y":7.341,"label":"85% ethanol with T"}]},
    "mark":{"type":"text","font":"Liberation Serif","fontSize":25,"color":"#000000","align":"right","baseline":"alphabetic"},
    "encoding":{"text":{"field":"label"}}},
   {"data":{"values":[{"x":0.934,"y":7.274,"label":"ref"}]},
    "mark":{"type":"text","font":"Liberation Serif","fontSize":19,"color":"#000000","align":"left","baseline":"alphabetic"},
    "encoding":{"text":{"field":"label"}}},
   {"data":{"values":[{"x":1.25,"y":7.341,"label":"= 23.5 °C"}]},
    "mark":{"type":"text","font":"Liberation Serif","fontSize":25,"color":"#000000","align":"left","baseline":"alphabetic"},
    "encoding":{"text":{"field":"label"}}}
  ]
 },
 {
  "data":{"name":"tand"},
  "mark":{"type":"point","filled":false,"strokeWidth":1.4,"size":140,"opacity":1},
  "encoding":{
   "y":{"field":"y","type":"quantitative","scale":{"domain":[0,1.5],"nice":false,"zero":false},
    "axis":{"orient":"right","values":[0,0.5,1,1.5],"format":"~g","title":"tan δ","titleAngle":270,"titleX":52,"titleY":449,"titleBaseline":"middle","titleAlign":"center","labelPadding":11,"tickSize":8}},
   "color":{"field":"series","type":"nominal",
    "scale":{"domain":["1.8C","3.3C","5.3C","9.4C","12.3C","15.3C","19.4C","23.5C","29.2C","34.5C","40C","45.5C","1.8C top","1.8C mid","3.3C black","5.3C red","19.4C light","40C deep"],
     "range":["#D2413E","#4F81BD","#C0783F","#31859C","#8064A2","#5A7EBA","#9E3A37","#92C653","#8DCBDC","#4BACC6","#F9B98A","#95B3D7","#C00000","#C0504D","#000000","#B0433F","#C9504C","#F59A4F"]},
    "legend":{"title":null,"orient":"none","direction":"vertical","legendX":921,"legendY":253,"padding":0,"values":["1.8C","3.3C","5.3C","9.4C","12.3C","15.3C","19.4C","23.5C","29.2C","34.5C","40C","45.5C"],"symbolSize":110,"symbolStrokeWidth":1.5,"labelFont":"Liberation Serif","labelFontSize":17,"labelColor":"#000000","rowPadding":17.3,"labelOffset":0}},
   "shape":{"field":"series","type":"nominal",
    "scale":{"domain":["1.8C","3.3C","5.3C","9.4C","12.3C","15.3C","19.4C","23.5C","29.2C","34.5C","40C","45.5C","1.8C top","1.8C mid","3.3C black","5.3C red","19.4C light","40C deep"],
     "range":["M-0.8,-1L0.8,1M-0.8,1L0.8,-1M0,-1.1L0,1.1","M-1,0L1,0M0,-1L0,1","circle","M-0.5,-0.17L0.5,-0.17L0.5,0.17L-0.5,0.17Z","M-1,-1L1,1M-1,1L1,-1","diamond","square","triangle-up","square","M-0.8,-1L0.8,1M-0.8,1L0.8,-1M0,-1.1L0,1.1","circle","M-1,0L1,0M0,-1L0,1","M-0.8,-1L0.8,1M-0.8,1L0.8,-1M0,-1.1L0,1.1","M-0.8,-1L0.8,1M-0.8,1L0.8,-1M0,-1.1L0,1.1","M-1,0L1,0M0,-1L0,1","circle","square","circle"]},
    "legend":{"title":null,"orient":"none","direction":"vertical","legendX":921,"legendY":253,"padding":0,"values":["1.8C","3.3C","5.3C","9.4C","12.3C","15.3C","19.4C","23.5C","29.2C","34.5C","40C","45.5C"],"symbolSize":110,"symbolStrokeWidth":1.5,"labelFont":"Liberation Serif","labelFontSize":17,"labelColor":"#000000","rowPadding":17.3,"labelOffset":0}}
  }
 }
],
"resolve":{"scale":{"y":"independent"}}
}
